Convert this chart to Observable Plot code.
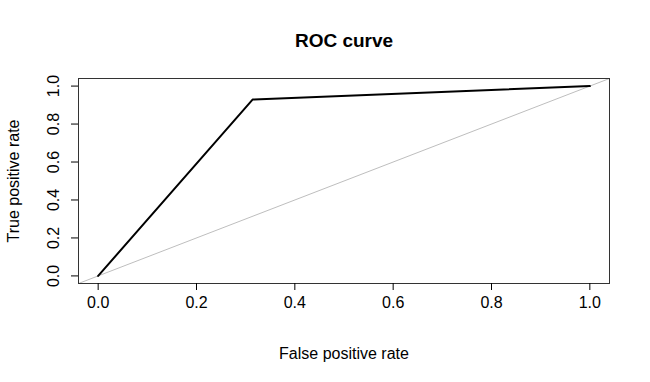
<!DOCTYPE html>
<html>
<head>
<meta charset="utf-8">
<script src="https://cdn.jsdelivr.net/npm/d3@7"></script>
<script src="https://cdn.jsdelivr.net/npm/@observablehq/plot@0.6"></script>
<style>
  html, body { margin: 0; padding: 0; background: #fff; }
  svg { font-family: "Liberation Sans", Arial, sans-serif; }
</style>
</head>
<body>
<div id="chart"></div>
<script>
const fpr = [0, 0.314, 1];
const tpr = [0, 0.929, 1];
const diagX = [-0.04, 1.04];
const diagY = [-0.04, 1.04];
const xTicks = [0, 0.2, 0.4, 0.6, 0.8, 1.0];
const yTicks = [0, 0.2, 0.4, 0.6, 0.8, 1.0];
const title = "ROC curve";
const xLabel = "False positive rate";
const yLabel = "True positive rate";

const roc = fpr.map((x, i) => ({x, y: tpr[i]}));
const diag = diagX.map((x, i) => ({x, y: diagY[i]}));

const chart = Plot.plot({
  width: 650,
  height: 382,
  marginLeft: 78,
  marginRight: 41,
  marginTop: 78,
  marginBottom: 99,
  style: {fontFamily: "'Liberation Sans', Arial, sans-serif", fontSize: "16px", color: "#000", background: "#fff"},
  x: {domain: [-0.04, 1.04]},
  y: {domain: [-0.04, 1.04]},
  marks: [
    Plot.line(diag, {x: "x", y: "y", stroke: "#bebebe", strokeWidth: 1, clip: true}),
    Plot.line(roc, {x: "x", y: "y", stroke: "#000", strokeWidth: 2}),
    Plot.frame({stroke: "#333", strokeWidth: 1, strokeOpacity: 1}),
    Plot.axisX({ticks: xTicks, tickFormat: d3.format(".1f"), tickSize: 7, tickPadding: 6, label: null, fontSize: 16, strokeOpacity: 1}),
    Plot.axisY({ticks: yTicks, tickFormat: d3.format(".1f"), tickSize: 7, tickPadding: 13, tickRotate: -90, label: null, fontSize: 16, strokeOpacity: 1}),
    Plot.text([title], {frameAnchor: "top", dy: -45, fontSize: 19, fontWeight: "bold", fill: "#000"}),
    Plot.text([xLabel], {frameAnchor: "bottom", dy: 75, fontSize: 16, fill: "#000"}),
    Plot.text([yLabel], {frameAnchor: "left", dx: -65, rotate: -90, textAnchor: "middle", fontSize: 16, fill: "#000"})
  ]
});
document.getElementById("chart").appendChild(chart);
</script>
</body>
</html>
